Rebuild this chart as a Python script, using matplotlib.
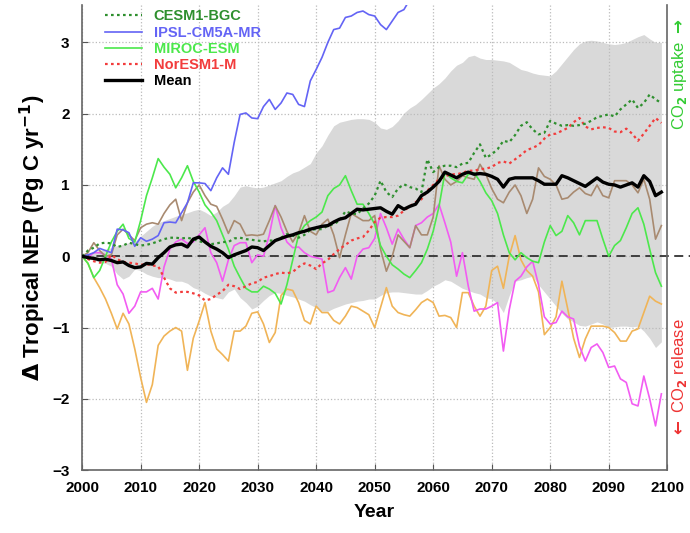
import numpy as np
import matplotlib
matplotlib.use("Agg")
import matplotlib.pyplot as plt

plt.rcParams['font.family'] = ['Liberation Sans', 'DejaVu Sans']
plt.rcParams['font.weight'] = 'bold'

years = np.arange(2000, 2100)

mean = [0, -0.02, -0.03, -0.05, -0.04, -0.06, -0.09, -0.08, -0.13, -0.16,
        -0.15, -0.1, -0.11, -0.02, 0.05, 0.13, 0.16, 0.17, 0.13, 0.24,
        0.27, 0.2, 0.14, 0.1, 0.05, -0.02, 0.02, 0.05, 0.08, 0.13,
        0.12, 0.08, 0.15, 0.22, 0.25, 0.28, 0.3, 0.33, 0.35, 0.38,
        0.4, 0.42, 0.43, 0.48, 0.52, 0.54, 0.6, 0.66, 0.65, 0.66,
        0.67, 0.68, 0.63, 0.59, 0.71, 0.66, 0.7, 0.73, 0.85, 0.9,
        0.97, 1.05, 1.18, 1.14, 1.1, 1.15, 1.18, 1.15, 1.16, 1.15,
        1.12, 1.08, 0.97, 1.08, 1.1, 1.1, 1.1, 1.1, 1.06, 1.01,
        1.01, 1.01, 1.13, 1.1, 1.06, 1.02, 0.98, 1.04, 1.1, 1.04,
        1.01, 1.0, 0.97, 1.0, 1.03, 0.97, 1.13, 1.05, 0.85, 0.9]

cesm = [0, 0.08, 0.12, 0.18, 0.19, 0.18, 0.13, 0.15, 0.19, 0.17,
        0.15, 0.16, 0.18, 0.21, 0.24, 0.26, 0.26, 0.25, 0.26, 0.24,
        0.21, 0.19, 0.17, 0.18, 0.2, 0.2, 0.25, 0.26, 0.24, 0.23,
        0.22, 0.21, 0.22, 0.22, 0.26, 0.31, 0.29, 0.26, 0.3, 0.37,
        0.38, 0.38, 0.43, 0.45, 0.5, 0.63, 0.6, 0.59, 0.67, 0.74,
        0.85, 1.06, 0.9, 0.83, 0.95, 1.01, 0.97, 0.95, 0.9, 1.36,
        1.18, 1.25, 1.27, 1.27, 1.25, 1.3, 1.31, 1.45, 1.57, 1.38,
        1.43, 1.5, 1.62, 1.6, 1.7, 1.83, 1.88, 1.78, 1.71, 1.73,
        1.9, 1.86, 1.83, 1.84, 1.83, 1.84, 1.86, 1.9, 1.95, 1.97,
        1.99, 1.96, 2.06, 2.13, 2.2, 2.08, 2.15, 2.27, 2.2, 2.15]

noresm = [0, -0.04, -0.07, -0.09, -0.08, 0.02, -0.04, -0.08, -0.09, -0.1,
          -0.12, -0.11, -0.13, -0.14, -0.3, -0.45, -0.51, -0.5, -0.5, -0.52,
          -0.55, -0.62, -0.6, -0.54, -0.49, -0.4, -0.42, -0.46, -0.42, -0.38,
          -0.36, -0.3, -0.28, -0.25, -0.23, -0.24, -0.22, -0.15, -0.1, -0.13,
          -0.18, -0.1, -0.05, 0.03, 0.1, 0.16, 0.22, 0.25, 0.27, 0.36,
          0.48, 0.54, 0.55, 0.55, 0.57, 0.64, 0.7, 0.76, 0.8, 0.92,
          1.0, 1.08, 1.12, 1.15, 1.15, 1.17, 1.2, 1.2, 1.22, 1.23,
          1.25, 1.31, 1.33, 1.3, 1.36, 1.42, 1.49, 1.52, 1.56, 1.65,
          1.71, 1.72, 1.76, 1.8, 1.88, 1.94, 1.82, 1.78, 1.8, 1.81,
          1.8, 1.75, 1.74, 1.79, 1.72, 1.62, 1.72, 1.83, 1.94, 1.87]

# IPSL leaves the plot at the top around 2056
ipsl = [0, 0.02, 0.05, 0.11, 0.08, 0.05, 0.38, 0.37, 0.33, 0.14,
        0.26, 0.21, 0.24, 0.29, 0.47, 0.48, 0.47, 0.61, 0.75, 1.03,
        1.03, 1.02, 0.92, 1.1, 1.24, 1.15, 1.6, 1.99, 2.01, 1.94,
        1.93, 2.1, 2.2, 2.06, 2.15, 2.29, 2.27, 2.13, 2.1, 2.46,
        2.62, 2.79, 3.0, 3.18, 3.2, 3.35, 3.37, 3.42, 3.44, 3.39,
        3.37, 3.25, 3.18, 3.3, 3.42, 3.46, 3.6]

miroc = [0, -0.1, -0.3, -0.2, 0.0, 0.2, 0.35, 0.45, 0.25, 0.2,
         0.5, 0.85, 1.1, 1.37, 1.25, 1.15, 0.96, 1.1, 1.27, 1.05,
         0.9, 0.72, 0.62, 0.5, 0.3, 0.1, -0.14, -0.3, -0.45, -0.5,
         -0.5, -0.42, -0.46, -0.52, -0.67, -0.4, -0.05, 0.3, 0.43, 0.5,
         0.55, 0.62, 0.85, 0.95, 1.0, 1.13, 0.92, 0.73, 0.73, 0.6,
         0.45, 0.15, 0.0, -0.12, -0.18, -0.25, -0.3, -0.2, -0.09, 0.1,
         0.35, 0.7, 1.17, 1.1, 1.05, 1.03, 1.15, 1.17, 1.05, 0.89,
         0.78, 0.6, 0.3, 0.05, -0.05, 0.05, -0.02, -0.07, -0.09, 0.2,
         0.43, 0.29, 0.35, 0.57, 0.47, 0.3, 0.5, 0.5, 0.5, 0.24,
         0.0, 0.15, 0.22, 0.4, 0.6, 0.68, 0.45, 0.1, -0.23, -0.42]

brown = [0, 0.05, 0.19, 0.08, 0.0, 0.02, 0.3, 0.38, 0.3, 0.22,
         0.4, 0.45, 0.47, 0.45, 0.6, 0.72, 0.8, 0.5, 0.75, 0.9,
         1.0, 0.85, 0.73, 0.7, 0.52, 0.32, 0.5, 0.45, 0.29, 0.3,
         0.29, 0.31, 0.5, 0.71, 0.55, 0.35, 0.2, 0.33, 0.57, 0.35,
         0.3, 0.45, 0.52, 0.3, -0.02, 0.3, 0.6, 0.55, 0.5, 0.5,
         0.57, 0.1, -0.21, 0.0, 0.3, 0.21, 0.12, 0.43, 0.3, 0.3,
         0.55, 1.27, 1.08, 1.0, 1.05, 1.13, 1.1, 1.08, 1.29, 1.15,
         0.95, 0.8, 0.75, 0.9, 1.0, 0.85, 0.6, 0.8, 1.24, 1.12,
         1.08, 1.0, 0.8, 0.82, 0.9, 0.96, 0.88, 0.85, 1.0, 0.85,
         0.82, 1.06, 1.06, 1.06, 1.0, 0.89, 1.08, 0.8, 0.24, 0.43]

magenta = [0, -0.02, 0.05, 0.05, 0.02, -0.04, -0.4, -0.53, -0.8, -0.7,
           -0.5, -0.5, -0.45, -0.6, -0.15, 0.1, 0.2, 0.24, 0.18, 0.2,
           0.3, 0.4, 0.05, -0.09, -0.35, -0.05, 0.15, 0.19, 0.19, -0.09,
           0.02, 0.0, 0.3, 0.71, 0.4, 0.2, 0.12, 0.13, 0.05, 0.0,
           -0.02, -0.04, -0.51, -0.48, -0.3, -0.16, -0.32, 0.0, 0.1, 0.12,
           0.25, 0.6, 0.4, 0.17, 0.38, 0.24, 0.12, 0.43, 0.47, 0.55,
           0.6, 0.73, 0.47, 0.2, -0.28, 0.05, -0.42, -0.77, -0.74, -0.74,
           -0.7, -0.65, -1.33, -0.75, -0.35, -0.28, -0.15, -0.07, -0.4, -0.85,
           -0.95, -0.93, -0.77, -0.85, -0.88, -1.26, -1.47, -1.28, -1.23, -1.35,
           -1.56, -1.54, -1.72, -1.77, -2.07, -2.1, -1.68, -2.0, -2.38, -1.93]

orange = [0, -0.1, -0.3, -0.44, -0.6, -0.8, -1.02, -0.8, -0.95, -1.3,
          -1.7, -2.05, -1.8, -1.25, -1.12, -1.05, -1.0, -1.05, -1.6, -1.15,
          -0.91, -0.65, -1.05, -1.3, -1.38, -1.47, -1.05, -1.05, -0.98, -0.8,
          -0.78, -0.95, -1.21, -1.07, -0.55, -0.46, -0.48, -0.65, -0.9, -0.95,
          -0.7, -0.79, -0.79, -0.9, -0.95, -0.84, -0.7, -0.72, -0.77, -0.82,
          -1.0, -0.72, -0.44, -0.7, -0.79, -0.82, -0.84, -0.75, -0.65, -0.6,
          -0.65, -0.84, -0.83, -0.86, -1.0, -0.51, -0.51, -0.7, -0.84, -0.7,
          -0.2, -0.14, -0.45, 0.0, 0.29, -0.05, -0.2, -0.28, -0.5, -1.1,
          -1.0, -0.85, -0.35, -0.74, -1.15, -1.42, -1.16, -0.98, -0.98, -0.98,
          -1.0, -1.07, -1.19, -1.19, -1.05, -1.02, -0.79, -0.56, -0.63, -0.67]

band_hi = [0, 0.03, 0.06, 0.08, 0.1, 0.12, 0.15, 0.17, 0.19, 0.21,
           0.28, 0.35, 0.42, 0.47, 0.5, 0.53, 0.56, 0.59, 0.61, 0.64,
           0.66, 0.62, 0.57, 0.62, 0.7, 0.75, 0.85, 0.97, 0.99, 0.97,
           0.96, 0.97, 1.0, 1.03, 1.06, 1.12, 1.17, 1.2, 1.25, 1.3,
           1.45, 1.55, 1.7, 1.83, 1.88, 1.9, 1.92, 1.93, 1.93, 1.92,
           1.88, 1.8, 1.78, 1.82, 1.9, 2.01, 2.08, 2.13, 2.2, 2.28,
           2.36, 2.42, 2.5, 2.6, 2.68, 2.72, 2.8, 2.82, 2.78, 2.76,
           2.76, 2.75, 2.74, 2.72, 2.67, 2.62, 2.6, 2.57, 2.55, 2.54,
           2.53, 2.6, 2.7, 2.8, 2.9, 2.98, 3.02, 3.03, 3.02, 3.0,
           2.98, 2.97, 2.98, 3.0, 3.04, 3.08, 3.11, 3.05, 3.0, 3.0]

band_lo = [0, -0.03, -0.06, -0.08, -0.1, -0.14, -0.25, -0.32, -0.28, -0.18,
           -0.2, -0.25, -0.28, -0.3, -0.3, -0.32, -0.35, -0.35, -0.38, -0.44,
           -0.47, -0.52, -0.56, -0.58, -0.6, -0.5, -0.46, -0.58, -0.65, -0.74,
           -0.7, -0.62, -0.55, -0.51, -0.52, -0.55, -0.57, -0.6, -0.63, -0.68,
           -0.72, -0.77, -0.77, -0.73, -0.7, -0.67, -0.65, -0.63, -0.62, -0.6,
           -0.6, -0.55, -0.51, -0.5, -0.5, -0.51, -0.52, -0.53, -0.53, -0.48,
           -0.42, -0.38, -0.33, -0.35, -0.4, -0.45, -0.48, -0.51, -0.53, -0.58,
           -0.6, -0.66, -0.79, -0.55, -0.35, -0.33, -0.3, -0.28, -0.4, -0.5,
           -0.6, -0.7, -0.8, -0.88, -0.92, -0.97, -0.98, -0.95, -0.92, -0.95,
           -1.0, -0.99, -0.98, -0.98, -0.99, -0.98, -1.05, -1.15, -1.28, -1.2]

fig = plt.figure(figsize=(6.9, 5.33), dpi=100)
ax = fig.add_axes([0.119, 0.118, 0.848, 0.872])

ax.fill_between(years, band_lo, band_hi, color='#d9d9d9', lw=0, zorder=1)
# zero line runs a little past the right frame, as in the original
ax.plot([2000, 2104], [0, 0], color='#333333', ls=(0, (5, 3)), lw=1.3, zorder=1.8, clip_on=False)

ax.plot(years, orange, color='#f0b457', lw=1.2, zorder=2)
ax.plot(years, magenta, color='#f25cf2', lw=1.2, zorder=2)
ax.plot(years, brown, color='#a88a70', lw=1.2, zorder=2)
ax.plot(years, miroc, color='#4ce84c', lw=1.2, zorder=2, label='MIROC-ESM')
ax.plot(years[:len(ipsl)], ipsl, color='#6464f5', lw=1.2, zorder=2, label='IPSL-CM5A-MR')
ax.plot(years, noresm, color='#f23c3c', lw=1.6, ls=(0, (1.2, 1.5)), zorder=2.1, label='NorESM1-M')
ax.plot(years, cesm, color='#2e8f2e', lw=1.6, ls=(0, (1.2, 1.5)), zorder=2.1, label='CESM1-BGC')
ax.plot(years, mean, color='black', lw=2.4, zorder=3, label='Mean')

ax.set_xlim(2000, 2100)
ax.set_ylim(-3, 3.52)
ax.set_xticks(range(2000, 2101, 10))
ax.set_yticks(range(-3, 4))
ax.tick_params(direction='in', length=4, labelsize=11, color='#555555')
ax.tick_params(axis='x', pad=8)
ax.tick_params(axis='y', pad=9)
for lab in ax.get_xticklabels() + ax.get_yticklabels():
    lab.set_fontweight('bold')
ax.grid(True, color='#bbbbbb', ls=':', lw=0.9)
ax.set_axisbelow('line')
ax.spines['top'].set_visible(False)
for s in ['left', 'bottom', 'right']:
    ax.spines[s].set_color('#666666')
    ax.spines[s].set_linewidth(1.2)

ax.set_xlabel('Year', fontsize=14, fontweight='bold', labelpad=6)
ax.set_ylabel(r'$\Delta$ Tropical NEP (Pg C yr$^{\mathbf{-1}}$)', fontsize=16, fontweight='bold', labelpad=3)

# legend order as in the original
handles, labels = ax.get_legend_handles_labels()
order = ['CESM1-BGC', 'IPSL-CM5A-MR', 'MIROC-ESM', 'NorESM1-M', 'Mean']
hs = [handles[labels.index(o)] for o in order]
leg = ax.legend(hs, order, loc='upper left', bbox_to_anchor=(0.025, 1.01), frameon=False,
                fontsize=10.5, handlelength=2.5, labelspacing=0.15, borderaxespad=0.2)
for txt, h in zip(leg.get_texts(), hs):
    txt.set_color(h.get_color())
    txt.set_fontweight('bold')

fig.text(0.985, 0.86, r'CO$_2$ uptake $\rightarrow$', rotation=90, color='#33cc33',
         fontsize=12, fontweight='normal', ha='center', va='center')
fig.text(0.985, 0.29, r'$\leftarrow$ CO$_2$ release', rotation=90, color='#ee3333',
         fontsize=12, fontweight='normal', ha='center', va='center')

fig.savefig('out.png', dpi=100)
